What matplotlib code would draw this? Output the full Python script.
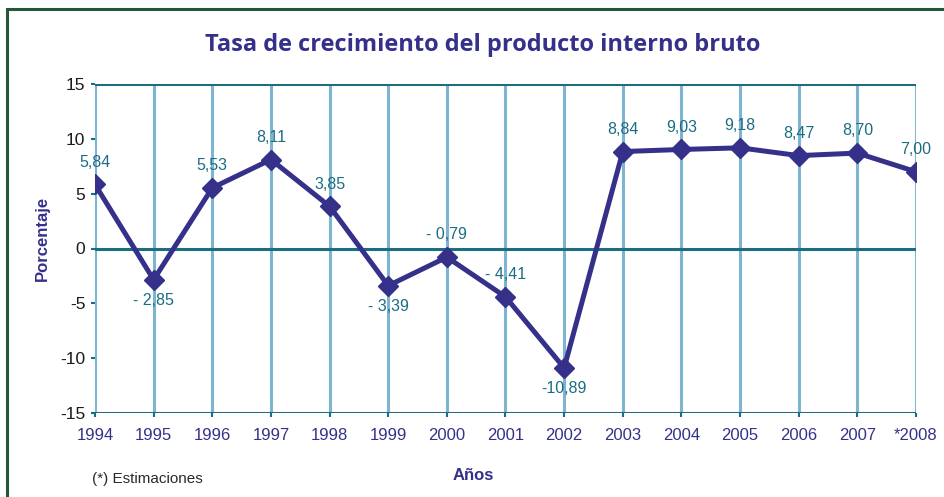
import matplotlib.pyplot as plt
from matplotlib.patches import Rectangle

years = ['1994', '1995', '1996', '1997', '1998', '1999', '2000', '2001',
         '2002', '2003', '2004', '2005', '2006', '2007', '*2008']
growth = [5.84, -2.85, 5.53, 8.11, 3.85, -3.39, -0.79, -4.41,
          -10.89, 8.84, 9.03, 9.18, 8.47, 8.70, 7.00]
point_labels = ['5,84', '- 2,85', '5,53', '8,11', '3,85', '- 3,39', '- 0,79', '- 4,41',
                '-10,89', '8,84', '9,03', '9,18', '8,47', '8,70', '7,00']
label_below = [False, True, False, False, False, True, False, False,
               True, False, False, False, False, False, False]
yticks = [-15, -10, -5, 0, 5, 10, 15]

navy = '#35318b'
teal = '#1b6d82'
light_blue = '#7db5d1'

plt.rcParams['font.family'] = ['Liberation Sans', 'DejaVu Sans']

fig = plt.figure(figsize=(9.45, 4.97), dpi=100)
ax = fig.add_axes([95 / 945, 1 - 413 / 497, (916 - 95) / 945, (413 - 84) / 497])

x = list(range(len(years)))

# vertical grid, light blue
for xi in x:
    ax.axvline(xi, color=light_blue, lw=2.2, zorder=1)
# horizontal lines at -15, 0, 15
for yv in (-15, 0, 15):
    ax.axhline(yv, color=teal, lw=2.2, zorder=2)

ax.plot(x, growth, color=navy, lw=3.6, marker='D', markersize=10.5, zorder=4)

for xi, v, lab, below in zip(x, growth, point_labels, label_below):
    off = -15 if below else 16
    ax.annotate(lab, (xi, v), xytext=(0, off), textcoords='offset points',
                ha='center', va='center', color=teal, fontsize=11.5)

ax.set_xlim(0, len(years) - 1)
ax.set_ylim(-15, 15)
ax.set_xticks(x)
ax.set_xticklabels(years, color=navy, fontsize=12)
ax.set_yticks(yticks)
ax.set_yticklabels([str(t) for t in yticks], fontsize=12.5, color='#1a1a1a')
ax.tick_params(axis='x', length=3, width=1.5, color=teal, pad=8)
ax.tick_params(axis='y', length=3, width=1.5, color=teal, pad=4)
for s in ax.spines.values():
    s.set_visible(False)

fig.text(42 / 945, 1 - 238 / 497, 'Porcentaje', rotation=90, ha='center', va='center',
         color=navy, fontsize=12, fontweight='bold')
fig.text(473 / 945, 1 - 475 / 497, 'Años', ha='center', va='center',
         color=navy, fontsize=12, fontweight='bold')
fig.text(92 / 945, 1 - 479 / 497, '(*) Estimaciones', ha='left', va='center',
         color='#2a2a2a', fontsize=11)
fig.text(483 / 945, 1 - 45 / 497, 'Tasa de crecimiento del producto interno bruto',
         ha='center', va='center', color=navy, fontsize=17, fontweight='bold',
         family=['Open Sans', 'DejaVu Sans'])

fig.patches.append(Rectangle((7 / 945, -0.1), 1.2, 1 - 9 / 497 + 0.1,
                             transform=fig.transFigure, fill=False,
                             edgecolor='#24573a', lw=2.2))

fig.savefig('out.png', dpi=100)
